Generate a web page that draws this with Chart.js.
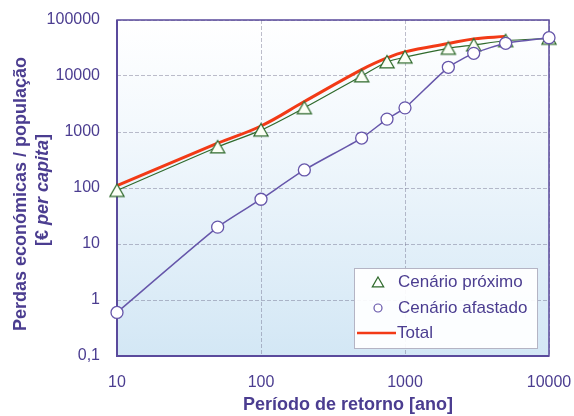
<!DOCTYPE html>
<html><head><meta charset="utf-8">
<script src="https://cdn.jsdelivr.net/npm/chart.js@4/dist/chart.umd.min.js"></script>
<style>html,body{margin:0;padding:0;background:#fff}</style>
</head><body>
<canvas id="c" width="574" height="416"></canvas>
<script>
// Return periods (years) and losses per capita (€)
const periods = [10, 50, 100, 200, 500, 750, 1000, 2000, 3000, 5000, 10000];
const proximo = [90, 540, 1080, 2700, 10000, 17800, 21700, 31200, 35800, 42600, 47000];
const afastado = [0.6, 20, 63, 210, 780, 1700, 2700, 14300, 25400, 38400, 48300];
const totalPeriods = [10, 50, 100, 200, 500, 750, 1000, 2000, 3000, 5000];
const total = [110, 630, 1280, 3500, 13000, 21000, 27000, 38000, 46000, 51000];
const xTicks = [10, 100, 1000, 10000];
const yTicks = [0.1, 1, 10, 100, 1000, 10000, 100000];
const seriesNames = ['Cenário próximo', 'Cenário afastado', 'Total'];

const TEXT = '#4b3d90';
const FONT = '"Liberation Sans", Arial, sans-serif';
const RED = 'rgb(242,58,22)';
const GREEN = '#2f6a2c';
const PURPLE = '#6656aa';

const pts = (xs, ys) => xs.map((x, i) => ({x, y: ys[i]}));

function drawTriangle(ctx, x, y, r, stroke, fill) {
  ctx.beginPath();
  ctx.moveTo(x, y - r);
  ctx.lineTo(x + r * 0.95, y + r * 0.65);
  ctx.lineTo(x - r * 0.95, y + r * 0.65);
  ctx.closePath();
  ctx.fillStyle = fill; ctx.fill();
  ctx.strokeStyle = stroke; ctx.lineWidth = 1.2; ctx.stroke();
}

const plotDecor = {
  id: 'plotDecor',
  beforeDraw(chart) {
    const {ctx, chartArea: a} = chart;
    const g = ctx.createLinearGradient(0, a.top, 0, a.bottom);
    g.addColorStop(0, '#ffffff');
    g.addColorStop(0.3, '#f4f9fd');
    g.addColorStop(1, '#d3e7f5');
    ctx.save();
    ctx.fillStyle = g;
    ctx.fillRect(a.left, a.top, a.right - a.left, a.bottom - a.top);
    ctx.restore();
  },
  beforeDatasetsDraw(chart) {
    const {ctx, chartArea: a} = chart;
    ctx.save();
    ctx.strokeStyle = '#5a4a9c';
    ctx.lineWidth = 1.5;
    ctx.strokeRect(a.left, a.top, a.right - a.left, a.bottom - a.top);
    ctx.lineWidth = 2;
    ctx.beginPath();
    ctx.moveTo(a.left, a.top); ctx.lineTo(a.left, a.bottom); ctx.lineTo(a.right, a.bottom);
    ctx.stroke();
    ctx.restore();
  },
  afterDraw(chart) {
    const {ctx} = chart;
    ctx.save();
    // axis titles
    ctx.fillStyle = TEXT;
    ctx.font = 'bold 18px ' + FONT;
    ctx.textAlign = 'left';
    ctx.textBaseline = 'middle';
    ctx.fillText('Período de retorno [ano]', 243, 405);

    ctx.save();
    ctx.textAlign = 'center';
    ctx.translate(21, 194);
    ctx.rotate(-Math.PI / 2);
    ctx.fillText('Perdas económicas / população', 0, 0);
    // second line with italic "per capita"
    const parts = [['[€ ', 'bold 18px ' + FONT], ['per capita', 'italic bold 18px ' + FONT], [']', 'bold 18px ' + FONT]];
    let w = 0;
    parts.forEach(p => { ctx.font = p[1]; w += ctx.measureText(p[0]).width; });
    let x = -w / 2 + 4;
    ctx.textAlign = 'left';
    parts.forEach(p => { ctx.font = p[1]; ctx.fillText(p[0], x, 22); x += ctx.measureText(p[0]).width; });
    ctx.restore();

    // legend
    const L = 354, T = 268, R = 537, B = 348;
    ctx.fillStyle = 'rgba(255,255,255,0.92)';
    ctx.fillRect(L, T, R - L, B - T);
    ctx.strokeStyle = '#b4b4c4';
    ctx.lineWidth = 1;
    ctx.strokeRect(L + 0.5, T + 0.5, R - L, B - T);
    ctx.font = '17px ' + FONT;
    ctx.textAlign = 'left';
    ctx.textBaseline = 'middle';
    ctx.fillStyle = TEXT;
    const rows = [282, 308, 333];
    drawTriangle(ctx, 378, rows[0] + 1, 6, GREEN, '#ffffff');
    ctx.beginPath(); ctx.arc(378, rows[1], 4, 0, Math.PI * 2);
    ctx.fillStyle = '#fff'; ctx.fill(); ctx.strokeStyle = PURPLE; ctx.lineWidth = 1.2; ctx.stroke();
    ctx.strokeStyle = RED; ctx.lineWidth = 2.5;
    ctx.beginPath(); ctx.moveTo(357, rows[2]); ctx.lineTo(396, rows[2]); ctx.stroke();
    ctx.fillStyle = TEXT;
    ctx.fillText(seriesNames[0], 398, rows[0]);
    ctx.fillText(seriesNames[1], 398, rows[1]);
    ctx.fillText(seriesNames[2], 397, rows[2]);
    ctx.restore();
  }
};

// triangle marker drawn as a canvas
function triangleMarker() {
  const c = document.createElement('canvas');
  c.width = 18; c.height = 16;
  const g = c.getContext('2d');
  drawTriangle(g, 9, 9, 7.5, GREEN, '#fbfff6');
  return c;
}
const tri = triangleMarker();

const noPad = s => { s.paddingLeft = 0; s.paddingRight = 0; s.paddingTop = 0; s.paddingBottom = 0; };

new Chart(document.getElementById('c'), {
  type: 'line',
  data: {
    datasets: [
      {
        label: seriesNames[2], data: pts(totalPeriods, total),
        borderColor: RED, borderWidth: 3, pointRadius: 0,
        tension: 0.4, order: 3, clip: false
      },
      {
        label: seriesNames[0], data: pts(periods, proximo),
        borderColor: GREEN, borderWidth: 1.2, pointStyle: tri,
        tension: 0.3, order: 2, clip: false
      },
      {
        label: seriesNames[1], data: pts(periods, afastado),
        borderColor: PURPLE, borderWidth: 1.5,
        pointStyle: 'circle', pointRadius: 6, pointBorderWidth: 1.3,
        pointBorderColor: PURPLE, pointBackgroundColor: '#ffffff',
        tension: 0.2, order: 1, clip: false
      }
    ]
  },
  options: {
    responsive: false,
    animation: false,
    devicePixelRatio: 1,
    layout: {padding: {top: 20, right: 25, left: 0, bottom: 0}},
    plugins: {legend: {display: false}, tooltip: {enabled: false}},
    scales: {
      x: {
        type: 'logarithmic', min: 10, max: 10000,
        afterBuildTicks: s => { s.ticks = xTicks.map(v => ({value: v})); },
        afterFit: s => { s.height = 60; noPad(s); },
        border: {display: false, dash: [4, 2]},
        grid: {color: 'rgba(110,110,140,0.45)', drawTicks: false, lineWidth: 1},
        ticks: {padding: 17, color: TEXT, font: {family: FONT, size: 16}, maxRotation: 0,
                callback: v => String(v)}
      },
      y: {
        type: 'logarithmic', min: 0.1, max: 100000,
        afterBuildTicks: s => { s.ticks = yTicks.map(v => ({value: v})); },
        afterFit: s => { s.width = 117; noPad(s); },
        border: {display: false, dash: [4, 2]},
        grid: {color: 'rgba(110,110,140,0.45)', drawTicks: false, lineWidth: 1},
        ticks: {padding: 17, color: TEXT, font: {family: FONT, size: 16},
                callback: v => v < 1 ? String(v).replace('.', ',') : String(v)}
      }
    }
  },
  plugins: [plotDecor]
});
</script>
</body></html>
